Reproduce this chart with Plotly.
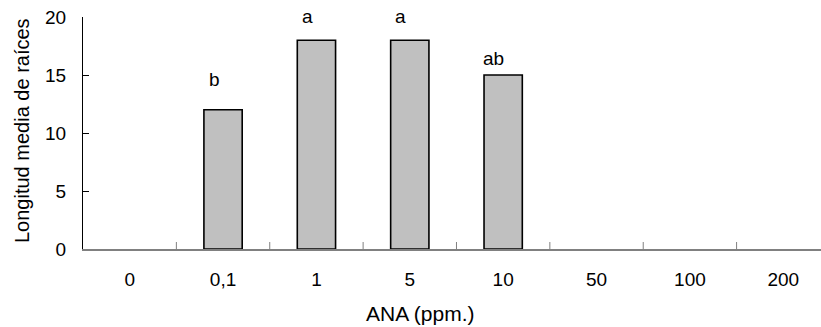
import plotly.graph_objects as go

categories = ["0", "0,1", "1", "5", "10", "50", "100", "200"]
values = [0, 12, 18, 18, 15, 0, 0, 0]
letters = ["", "b", "a", "a", "ab", "", "", ""]
letter_y = [None, 14.6, 20.05, 20.05, 16.4, None, None, None]

FONT = "Liberation Sans, Arial, sans-serif"

L, T, B = 83, 17, 78
PW, PH = 821 - L, 327 - T - B
YMAX = 20

fig = go.Figure()
fig.add_trace(go.Bar(
    x=list(range(len(categories))), y=values, width=0.41,
    marker=dict(color="#C0C0C0",
                line=dict(color="black", width=[1.6 if v else 0 for v in values])),
))

for i, (t, ly) in enumerate(zip(letters, letter_y)):
    if t:
        yy = min(ly, YMAX)
        fig.add_annotation(x=i, y=yy, yshift=(ly - yy) * PH / YMAX, text=t, showarrow=False,
                           xshift=-10 if len(t) > 1 else -9,
                           yanchor="middle", font=dict(size=19, color="black", family=FONT))

fig.add_annotation(xref="paper", yref="paper", x=(420 - L) / PW, y=-(313 - (T + PH)) / PH,
                   text="ANA (ppm.)", showarrow=False, xanchor="center", yanchor="middle",
                   font=dict(size=21, color="black", family=FONT))
fig.add_annotation(xref="paper", yref="paper", x=(22 - L) / PW, y=(T + PH - 131) / PH,
                   text="Longitud media de raíces", showarrow=False, textangle=-90,
                   xanchor="center", yanchor="middle",
                   font=dict(size=20, color="black", family=FONT))

fig.update_layout(
    width=821, height=327,
    margin=dict(l=L, r=0, t=T, b=B),
    plot_bgcolor="white", paper_bgcolor="white",
    showlegend=False,
    font=dict(family=FONT, size=19, color="black"),
    xaxis=dict(
        tickmode="array", tickvals=list(range(len(categories))), ticktext=categories,
        range=[-0.5, 7.404],
        showline=True, linecolor="#808080", linewidth=1.5,
        ticks="", showgrid=False, zeroline=False,
        ticklabelstandoff=12,
        tickfont=dict(size=19, color="black", family=FONT),
    ),
    yaxis=dict(
        range=[0, YMAX], tickvals=[0, 5, 10, 15, 20],
        showline=True, linecolor="black", linewidth=1,
        ticks="inside", ticklen=6, tickcolor="black",
        showgrid=False, zeroline=False,
        ticklabelstandoff=12,
        tickfont=dict(size=19, color="black", family=FONT),
    ),
)

# boundary tick marks on the x axis (inside, pointing up)
for b in [i + 0.5 for i in range(len(categories) - 1)]:
    fig.add_shape(type="line", xref="x", yref="paper", x0=b, x1=b, y0=0, y1=7 / PH,
                  line=dict(color="#808080", width=1))

fig.write_html("out.html")
